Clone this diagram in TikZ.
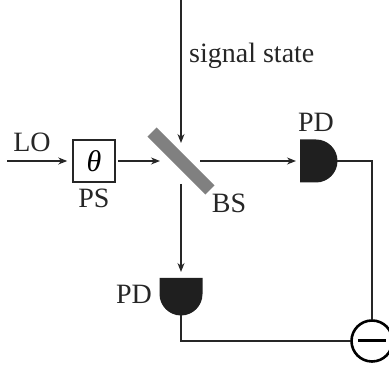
\documentclass[tikz,border=0pt]{standalone}
\usepackage{fontspec}
\setmainfont{Liberation Serif}
\usetikzlibrary{arrows.meta}

\tikzset{
    beam/.style={line width=1.3pt,draw=black!85,-{Stealth[length=9pt,width=7pt]}},
    wire/.style={line width=1.3pt,draw=black!85},
    label/.style={inner sep=0,font=\fontsize{28}{28}\selectfont,text=black!85},
    detector/.style={fill=black!88,draw=none}
}

\begin{document}
\begin{tikzpicture}[x=1pt,y=1pt]
    \newcommand{\pdradius}{21.5}
    \useasboundingbox (0,0) rectangle (389,369);

    % Draw splitter and phase shifter
    \node[fill=black!50,minimum width=82pt,minimum height=13pt,inner sep=0,rotate=-45] (bs) at (181,208) {};
    \node[draw=black!85,line width=1.5pt,minimum size=42pt,inner sep=0] (ps) at (94,208) {\fontsize{30}{30}\selectfont\textit{θ}};

    % Draw free ends of the beams
    \coordinate (loin) at (7,208);
    \coordinate (psout) at (118,208);
    \coordinate (bsin) at (160,208);
    \coordinate (sigin) at (181,369);
    \coordinate (sigend) at (181,226);
    \coordinate (bsright) at (200,208);
    \coordinate (bsdown) at (181,185);

    % Draw photodetectors
    \coordinate (pdr) at (300,208);
    \coordinate (pdb) at (181,91);
    \fill[detector] (300,229.5) -- (316,229.5) arc (90:-90:\pdradius) -- (300,186.5) -- cycle;
    \fill[detector] (159.5,91) -- (159.5,75) arc (180:360:\pdradius) -- (202.5,91) -- cycle;
    \coordinate (pdrout) at (337,208);
    \coordinate (pdbout) at (181,54);

    % Draw subtractor
    \node[circle,draw=black,line width=2.6pt,minimum size=41pt,inner sep=0] (sub) at (372,28) {};
    \draw[line width=3pt,draw=black] ([xshift=-14pt]sub.center) -- ([xshift=14pt]sub.center);

    % Draw beams and wires
    \draw[beam] (loin) -- ([xshift=-5pt]ps.west);
    \draw[beam] (psout) -- (bsin);
    \draw[beam] (sigin) -- (sigend);
    \draw[beam] (bsright) -- ([xshift=-4pt]pdr);
    \draw[beam] (bsdown) -- ([yshift=6pt]pdb);
    \draw[wire] (pdrout) -| (sub.north);
    \draw[wire] (pdbout) |- (sub.west);

    % Draw labels
    \node[label,anchor=base west] (signal) at (189,306) {signal state};
    \node[label,anchor=base] (lo) at (32,217) {LO};
    \node[label,anchor=base] (pslabel) at (94,161) {PS};
    \node[label,anchor=base] (bslabel) at (229,156) {BS};
    \node[label,anchor=base] (pdrlabel) at (316,237) {PD};
    \node[label,anchor=base] (pdblabel) at (134,65) {PD};
\end{tikzpicture}
\end{document}
